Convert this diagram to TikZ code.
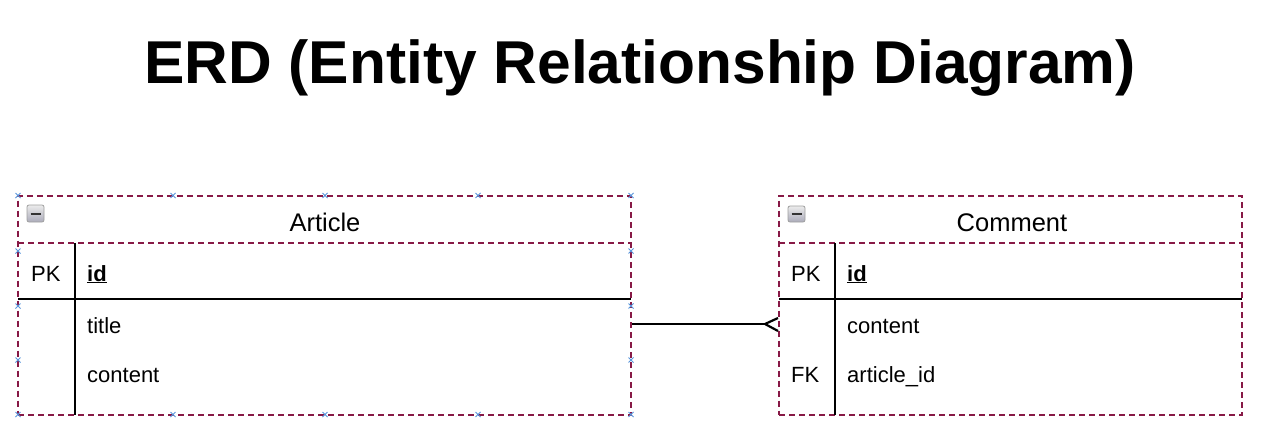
\documentclass[tikz,border=0pt]{standalone}
\usepackage{fontspec}
\setmainfont{Liberation Sans}
\begin{document}
\begin{tikzpicture}[x=1pt,y=-1pt,
  erdborder/.style={draw=erdc, dash pattern=on 6pt off 4pt, line width=2pt},
  solidline/.style={draw=black, line width=1.8pt},
  entity/.style={erdborder, rectangle, inner sep=0pt, fill=none},
  hdrtxt/.style={anchor=base, inner sep=0pt, font=\fontsize{25.5}{30}\selectfont},
  celltxt/.style={anchor=base west, inner sep=0pt, font=\fontsize{22}{26}\selectfont},
  handle/.style={draw=hcol, line width=1pt},
  icon/.style={draw=gray!75, line width=0.8pt, rounded corners=2pt, top color=gray!15, bottom color=blue!10!gray!60},
  conn/.style={draw=black, line width=2.2pt}
]
\definecolor{erdc}{RGB}{135,25,70}
\definecolor{hcol}{RGB}{90,150,220}
\useasboundingbox[fill=white] (0,0) rectangle (1263,444);

% title
\node[anchor=base, inner sep=0pt, font=\fontsize{60.5}{68}\selectfont\bfseries] (title) at (640,83) {ERD (Entity Relationship Diagram)};

% ---------- Article ----------
\node[entity, minimum width=613pt, minimum height=219pt] (article) at (324.5,305) {};
\draw[erdborder] (18,243) -- (631,243);
\draw[solidline] (18,299) -- (631,299);
\draw[solidline] (75,243) -- (75,414.5);
\draw[icon] (27,205) rectangle (44,222);
\draw[line width=2pt, draw=black!80] (30.5,213.5) -- (40.5,213.5);
\node[hdrtxt] (arttitle) at (325,231) {Article};
\node[celltxt] (apk) at (31,281) {PK};
\node[celltxt] (aid) at (87,281) {\underline{\bfseries id}};
\node[celltxt] (atitle) at (87,333) {title};
\node[celltxt] (acontent) at (87,382) {content};
% selection handles
\foreach \x in {18,173,325,478,631} {
  \draw[handle] (\x,195.5) +(-2.5,-2.5) -- +(2.5,2.5) +(-2.5,2.5) -- +(2.5,-2.5);
  \draw[handle] (\x,414.5) +(-2.5,-2.5) -- +(2.5,2.5) +(-2.5,2.5) -- +(2.5,-2.5);
}
\foreach \y in {251,306,360} {
  \draw[handle] (18,\y) +(-2.5,-2.5) -- +(2.5,2.5) +(-2.5,2.5) -- +(2.5,-2.5);
  \draw[handle] (631,\y) +(-2.5,-2.5) -- +(2.5,2.5) +(-2.5,2.5) -- +(2.5,-2.5);
}

% ---------- Comment ----------
\node[entity, minimum width=463pt, minimum height=219pt] (comment) at (1010.5,305) {};
\draw[erdborder] (779,243) -- (1242,243);
\draw[solidline] (779,299) -- (1242,299);
\draw[solidline] (835,243) -- (835,414.5);
\draw[icon] (788,206) rectangle (805,222);
\draw[line width=2pt, draw=black!80] (791.5,214) -- (801.5,214);
\node[hdrtxt] (comtitle) at (1012,231) {Comment};
\node[celltxt] (cpk) at (791,281) {PK};
\node[celltxt] (cid) at (847,281) {\underline{\bfseries id}};
\node[celltxt] (ccontent) at (847,333) {content};
\node[celltxt] (cfk) at (791,382) {FK};
\node[celltxt] (carticle) at (847,382) {article\_id};

% ---------- relationship (one to many) ----------
\coordinate (ra) at (article.east |- 0,324);
\coordinate (foot) at (765,324);
\coordinate (fu) at (comment.west |- 0,318);
\coordinate (fd) at (comment.west |- 0,331);
\draw[conn] (ra) -- (foot);
\draw[conn] (fu) -- (foot) -- (fd);
\end{tikzpicture}
\end{document}
